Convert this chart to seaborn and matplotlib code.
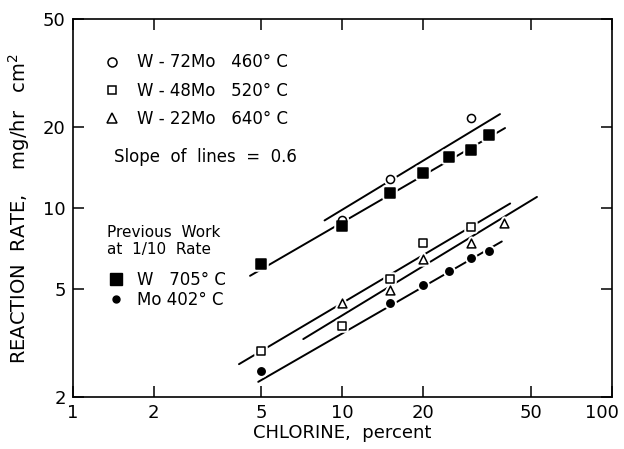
"""
Reaction rate vs chlorine concentration (log-log)
"""

import matplotlib
matplotlib.use('Agg')
import matplotlib.pyplot as plt
from matplotlib.lines import Line2D
from matplotlib.transforms import ScaledTranslation
import seaborn as sns
import pandas as pd

# Measured points
w72_x = [10, 15, 30]
w72_y = [9.0, 12.8, 21.6]

w48_x = [5, 10, 15, 20, 30]
w48_y = [2.96, 3.66, 5.46, 7.45, 8.54]

w22_x = [10, 15, 20, 30, 40]
w22_y = [4.46, 4.97, 6.46, 7.45, 8.84]

w705_x = [5, 10, 15, 20, 25, 30, 35]
w705_y = [6.2, 8.6, 11.4, 13.5, 15.5, 16.4, 18.7]

mo402_x = [5, 15, 20, 25, 30, 35]
mo402_y = [2.5, 4.44, 5.19, 5.85, 6.55, 6.96]

# Fitted lines (slope 0.6), end points
fit_lines = {
    'W-72Mo': ([8.6, 38.5], [9.0, 22.3]),
    'W 705': ([4.55, 40.2], [5.61, 19.8]),
    'upper low': ([4.14, 42.0], [2.64, 10.4]),
    'mid low': ([7.17, 52.8], [3.27, 11.0]),
    'Mo 402': ([4.88, 39.1], [2.27, 7.52]),
}

x_ticks = [1, 2, 5, 10, 20, 50, 100]
x_ticklabels = ['1', '2', '5', '10', '20', '50', '100']
y_ticks = [2, 5, 10, 20, 50]
y_ticklabels = ['2', '5', '10', '20', '50']

sns.set_style('ticks')
plt.rcParams['font.family'] = ['DejaVu Sans']
plt.rcParams['text.color'] = 'black'
plt.rcParams['axes.labelcolor'] = 'black'
plt.rcParams['xtick.color'] = 'black'
plt.rcParams['ytick.color'] = 'black'
plt.rcParams['axes.edgecolor'] = 'black'

fig = plt.figure(figsize=(6.24, 4.49), dpi=100)
ax = fig.add_axes([0.1165, 0.1165, 0.8638, 0.8401])
ax.set_xscale('log')
ax.set_yscale('log')

for xs, ys in fit_lines.values():
    ax.plot(xs, ys, color='black', linewidth=1.4, zorder=1)

# (x, y, marker, size, filled)
series = [
    (w72_x, w72_y, 'o', 34, False),
    (w48_x, w48_y, 's', 34, False),
    (w22_x, w22_y, '^', 40, False),
    (w705_x, w705_y, 's', 55, True),
    (mo402_x, mo402_y, 'o', 28, True),
]

for xs, ys, m, s, filled in series:
    df = pd.DataFrame({'x': xs, 'y': ys})
    # white halo to break the line around each marker
    sns.scatterplot(data=df, x='x', y='y', marker=m, s=s, color='white',
                    edgecolor='white', linewidth=4, ax=ax, zorder=2)
    sns.scatterplot(data=df, x='x', y='y', marker=m, s=s,
                    color='black' if filled else 'white',
                    edgecolor='black', linewidth=1.1, ax=ax, zorder=3)

ax.set_xlim(1, 100)
ax.set_ylim(2, 50)
ax.set_xticks(x_ticks)
ax.set_xticklabels(x_ticklabels)
ax.set_yticks(y_ticks)
ax.set_yticklabels(y_ticklabels)
ax.minorticks_off()
ax.tick_params(which='major', direction='in', length=8, width=1.1,
               top=True, right=True, labelsize=13, pad=5)
# last x label sits a little left so it stays inside the figure
last = ax.get_xticklabels()[-1]
last.set_transform(last.get_transform() + ScaledTranslation(-0.1, 0, fig.dpi_scale_trans))
for sp in ax.spines.values():
    sp.set_linewidth(1.2)

ax.set_xlabel('CHLORINE,  percent', fontsize=13, labelpad=2)
ax.set_ylabel('REACTION  RATE,    mg/hr   cm$^2$', fontsize=14, labelpad=8)

# Legends
h1 = [Line2D([], [], marker='o', ls='none', mfc='white', mec='black', ms=6.5, mew=1.1),
      Line2D([], [], marker='s', ls='none', mfc='white', mec='black', ms=6, mew=1.1),
      Line2D([], [], marker='^', ls='none', mfc='white', mec='black', ms=6.5, mew=1.1)]
l1 = ax.legend(h1, ['W - 72Mo   460° C', 'W - 48Mo   520° C', 'W - 22Mo   640° C'],
               loc='upper left', bbox_to_anchor=(0.058, 0.91), frameon=False,
               fontsize=12, handlelength=1.0, handletextpad=0.98,
               labelspacing=0.61, borderpad=0, borderaxespad=0)
ax.add_artist(l1)

ax.text(0.077, 0.635, 'Slope  of  lines  =  0.6', transform=ax.transAxes,
        fontsize=12, va='center', ha='left')

ax.text(0.064, 0.4135, 'Previous  Work\nat  1/10  Rate', transform=ax.transAxes,
        fontsize=11, va='center', ha='left', linespacing=1.2)

h2 = [Line2D([], [], marker='s', ls='none', mfc='black', mec='black', ms=8),
      Line2D([], [], marker='o', ls='none', mfc='black', mec='black', ms=5)]
ax.legend(h2, ['W   705° C', 'Mo 402° C'],
          loc='upper left', bbox_to_anchor=(0.065, 0.333), frameon=False,
          fontsize=12, handlelength=1.0, handletextpad=0.73,
          labelspacing=0.13, borderpad=0, borderaxespad=0)

plt.savefig('out.png', dpi=100)
